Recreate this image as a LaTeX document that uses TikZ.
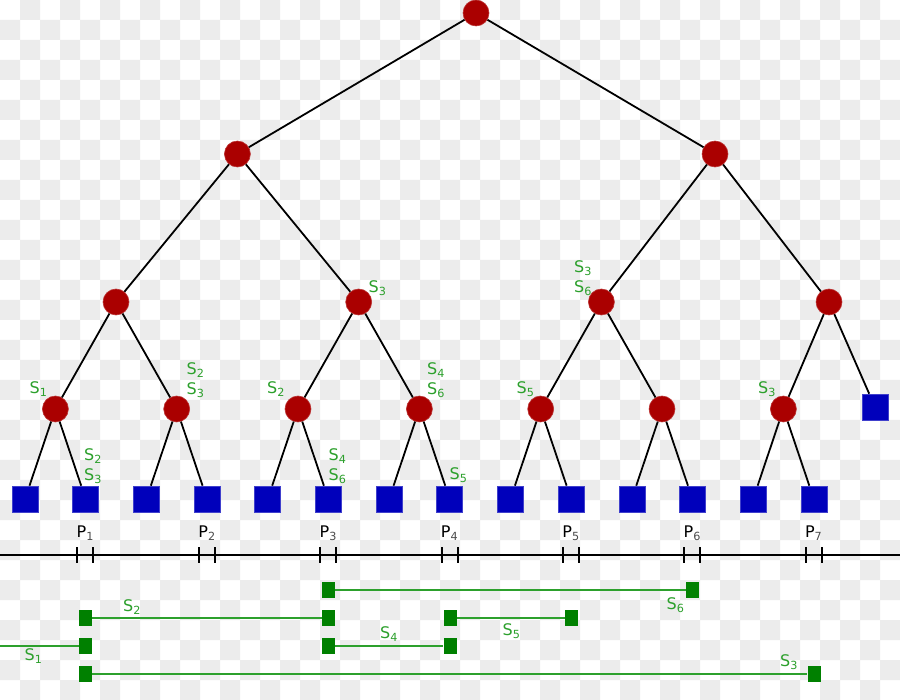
\documentclass[tikz,border=0pt]{standalone}
\usepackage{fontspec}
\setmainfont{DejaVu Sans}
\definecolor{bgchk}{HTML}{ECECEC}
\definecolor{nodered}{HTML}{AA0000}
\definecolor{nodeblue}{HTML}{0000BB}
\definecolor{sqgreen}{HTML}{008000}
\definecolor{lblgreen}{HTML}{2CA02C}
\tikzset{
  inner/.style={circle,fill=nodered,draw=nodered!80!white,line width=0.6pt,minimum size=26pt,inner sep=0pt},
  leafbox/.style={rectangle,fill=nodeblue,draw=nodeblue!75!white,line width=0.6pt,minimum size=26pt,inner sep=0pt},
  endbox/.style={rectangle,fill=sqgreen,draw=none,minimum width=13pt,minimum height=16.5pt,inner sep=0pt},
  edge/.style={draw=black,line width=1.8pt},
  seg/.style={draw=lblgreen,line width=2pt},
  slabel/.style={text=lblgreen,font=\fontsize{16}{20}\selectfont,inner sep=0pt,align=left},
  plabel/.style={text=black,font=\fontsize{16}{20}\selectfont,inner sep=0pt},
}
\newcommand{\Sx}[1]{S\textsubscript{#1}}
\newcommand{\Px}[1]{P\textsubscript{\color{black!70}#1}}
\begin{document}
\begin{tikzpicture}[x=1pt,y=-1pt]
\useasboundingbox (0,0) rectangle (900,700);
% checkerboard background
\fill[white] (0,0) rectangle (900,700);
\fill[bgchk]
  \foreach \j in {0,2,...,34} {\foreach \i in {1,3,...,43} {(\i*20,\j*20) rectangle ++(20,20)}}
  \foreach \j in {1,3,...,33} {\foreach \i in {0,2,...,44} {(\i*20,\j*20) rectangle ++(20,20)}};
% tree nodes
\node[inner] (r) at (476,13) {};
\node[inner] (a) at (237.4,154) {};
\node[inner] (b) at (715,154) {};
\node[inner] (c) at (116,302) {};
\node[inner] (d) at (358.7,302) {};
\node[inner] (e) at (601.4,302) {};
\node[inner] (f) at (829,302) {};
\node[inner] (g1) at (55.4,409) {};
\node[inner] (g2) at (176.7,409) {};
\node[inner] (g3) at (298,409) {};
\node[inner] (g4) at (419.4,409) {};
\node[inner] (g5) at (540.7,409) {};
\node[inner] (g6) at (662,409) {};
\node[inner] (g7) at (783.4,409) {};
\node[leafbox] (lf) at (875,407) {};
\foreach \k in {1,...,14} {
  \node[leafbox] (l\k) at ({25+60.68*(\k-1)},499) {};
}
% edges
\draw[edge] (r) -- (a);
\draw[edge] (r) -- (b);
\draw[edge] (a) -- (c);
\draw[edge] (a) -- (d);
\draw[edge] (b) -- (e);
\draw[edge] (b) -- (f);
\draw[edge] (c) -- (g1);
\draw[edge] (c) -- (g2);
\draw[edge] (d) -- (g3);
\draw[edge] (d) -- (g4);
\draw[edge] (e) -- (g5);
\draw[edge] (e) -- (g6);
\draw[edge] (f) -- (g7);
\draw[edge] (f) -- (lf);
\foreach \i [evaluate=\i as \u using int(2*\i-1), evaluate=\i as \v using int(2*\i)] in {1,...,7} {
  \draw[edge] (g\i) -- (l\u);
  \draw[edge] (g\i) -- (l\v);
}
% tree labels
\node[slabel] (t1) at (38.5,389) {\Sx{1}};
\node[slabel] (t2) at (195.5,380) {\Sx{2}\\\Sx{3}};
\node[slabel] (t3) at (93,466) {\Sx{2}\\\Sx{3}};
\node[slabel] (t4) at (276,389) {\Sx{2}};
\node[slabel] (t5) at (436,380) {\Sx{4}\\\Sx{6}};
\node[slabel] (t6) at (337.5,466) {\Sx{4}\\\Sx{6}};
\node[slabel] (t7) at (458.5,475) {\Sx{5}};
\node[slabel] (t8) at (377.5,288) {\Sx{3}};
\node[slabel] (t9) at (583,278) {\Sx{3}\\\Sx{6}};
\node[slabel] (t10) at (525.5,389) {\Sx{5}};
\node[slabel] (t11) at (767,389) {\Sx{3}};
% number line
\coordinate (nlA) at (0,555);
\coordinate (nlB) at (900,555);
\draw[line width=2pt] (nlA) -- (nlB);
\foreach \k/\x in {1/85.3,2/207,3/328.3,4/449.6,5/571,6/692.3,7/813.7} {
  \draw[line width=1.8pt] (\x-8,547) -- (\x-8,563) (\x+8,547) -- (\x+8,563);
  \node[plabel] (p\k) at (\x,533) {\Px{\k}};
}
% segments
\node[endbox] (q6a) at (328.5,590) {};
\node[endbox] (q6b) at (692.5,590) {};
\draw[seg] (q6a) -- (q6b);
\node[slabel] (s6) at (675.5,605) {\Sx{6}};
\node[endbox] (q2a) at (85.7,618) {};
\node[endbox] (q2b) at (328.5,618) {};
\draw[seg] (q2a) -- (q2b);
\node[slabel] (s2) at (132,607) {\Sx{2}};
\node[endbox] (q5a) at (450,618) {};
\node[endbox] (q5b) at (571.3,618) {};
\draw[seg] (q5a) -- (q5b);
\node[slabel] (s5) at (511.5,631) {\Sx{5}};
\coordinate (q1a) at (0,646);
\node[endbox] (q1b) at (85.7,646) {};
\draw[seg] (q1a) -- (q1b);
\node[slabel] (s1) at (33.5,656) {\Sx{1}};
\node[endbox] (q4a) at (328.5,646) {};
\node[endbox] (q4b) at (450,646) {};
\draw[seg] (q4a) -- (q4b);
\node[slabel] (s4) at (389,634) {\Sx{4}};
\node[endbox] (q3a) at (85.7,674) {};
\node[endbox] (q3b) at (814,674) {};
\draw[seg] (q3a) -- (q3b);
\node[slabel] (s3) at (789,662) {\Sx{3}};
\end{tikzpicture}
\end{document}
